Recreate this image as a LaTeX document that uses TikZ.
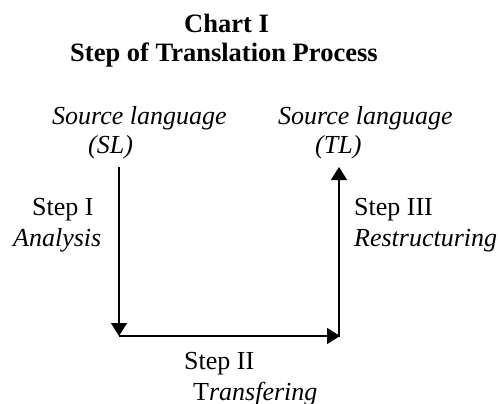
\documentclass[tikz,border=0pt]{standalone}
\usepackage{fontspec}
\setmainfont{Liberation Serif}
\usepackage{tikz}
\usetikzlibrary{arrows.meta}

\begin{document}
\begin{tikzpicture}[x=1pt,y=-1pt,>={Triangle[length=13pt,width=16pt]},
 txt/.style={inner sep=0pt,anchor=base west,font=\fontsize{26}{30}\selectfont},
 head/.style={txt,font=\fontsize{26.5}{30}\selectfont\bfseries},
 flow/.style={draw,->,line width=1.5pt}]
\useasboundingbox (0,0) rectangle (498,404);
% title
\node[head] (chart) at (184,33) {Chart I};
\node[head] (title) at (70,62) {Step of Translation Process};
% the two languages
\node[txt] (sl) at (52,124) {\textit{Source language}};
\node[txt] (slabbr) at (88,153) {\textit{(SL)}};
\node[txt] (tl) at (278,124) {\textit{Source language}};
\node[txt] (tlabbr) at (315,153) {\textit{(TL)}};
% steps
\node[txt] (s1) at (32,215) {Step I};
\node[txt] (s1name) at (13,246) {\textit{Analysis}};
\node[txt] (s3) at (354,215) {Step III};
\node[txt] (s3name) at (354,246) {\textit{Restructuring}};
\node[txt] (s2) at (184,369) {Step II};
\node[txt] (s2name) at (193,400) {T\textit{ransfering}};
\coordinate (slfoot) at (119,167);
\coordinate (cornerl) at (119,336);
\coordinate (cornerr) at (340,336);
\coordinate (tlfoot) at (339,167);
\path (slfoot) edge[flow] (cornerl)
(cornerl) edge[flow] (cornerr)
(cornerr -| tlfoot) edge[flow,shorten <=-0.75pt] (tlfoot);
\end{tikzpicture}
\end{document}
